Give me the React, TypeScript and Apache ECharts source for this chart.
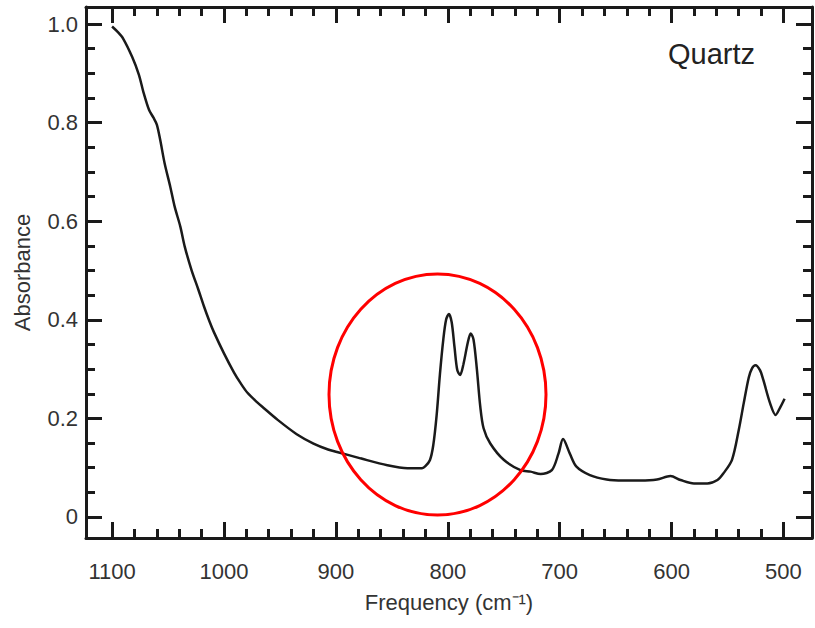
import React, { useEffect, useRef } from 'react';
import * as echarts from 'echarts';

// Wavenumber (cm^-1), descending
const wavenumbers = [
  1100, 1095, 1090, 1082, 1076, 1072, 1067, 1063, 1060, 1057, 1053, 1048, 1044, 1039, 1035, 1029,
  1023, 1018, 1013, 1009, 1000, 991, 985, 979, 970, 966, 952, 935, 920, 907, 899, 878, 854, 836,
  823, 820, 816, 813, 810, 807, 804, 801.5, 799, 796.5, 794, 791.5, 789, 786, 782, 779.5, 777,
  774, 771, 768, 762, 750, 735, 726, 717, 707, 701, 697, 691, 685, 673, 658, 643, 628, 613, 601,
  592, 580, 568, 559, 553.5, 546, 540, 535.5, 531, 528, 525, 521, 518, 512, 507, 503, 499,
];
// Absorbance values
const absorbance = [
  0.995, 0.984, 0.97, 0.933, 0.897, 0.862, 0.826, 0.81, 0.796, 0.765, 0.717, 0.67, 0.629, 0.589,
  0.548, 0.501, 0.462, 0.428, 0.397, 0.375, 0.332, 0.293, 0.271, 0.252, 0.232, 0.224, 0.197,
  0.168, 0.149, 0.137, 0.132, 0.119, 0.105, 0.099, 0.099, 0.103, 0.115, 0.145, 0.205, 0.29,
  0.36, 0.4, 0.412, 0.395, 0.345, 0.298, 0.288, 0.31, 0.355, 0.372, 0.36, 0.3, 0.225, 0.18,
  0.149, 0.116, 0.095, 0.092, 0.087, 0.095, 0.129, 0.158, 0.129, 0.102, 0.085, 0.076, 0.074,
  0.074, 0.076, 0.083, 0.075, 0.068, 0.068, 0.075, 0.089, 0.116, 0.176, 0.231, 0.283, 0.302,
  0.308, 0.298, 0.278, 0.231, 0.207, 0.222, 0.24,
];

const xMajorTicks = [1100, 1000, 900, 800, 700, 600, 500];
const xMinorTicks = [
  1080, 1060, 1040, 1020, 980, 960, 940, 920, 880, 860, 840, 820, 780, 760, 740, 720,
  680, 660, 640, 620, 580, 560, 540, 520,
];
const yMajorTicks = [0, 0.2, 0.4, 0.6, 0.8, 1.0];
const yMinorTicks = [0.05, 0.1, 0.15, 0.25, 0.3, 0.35, 0.45, 0.5, 0.55, 0.65, 0.7, 0.75, 0.85, 0.9, 0.95];

const sampleName = 'Quartz';
const xName = 'Frequency (cm⁻¹)';
const yName = 'Absorbance';

export default function App() {
  const ref = useRef<HTMLDivElement>(null);

  useEffect(() => {
    document.body.style.margin = '0';
    const chart = echarts.init(ref.current!, undefined, { renderer: 'svg', width: 815, height: 628 });

    const X_MIN = 474.5;
    const X_MAX = 1123.3;
    const Y_MIN = -0.0426;
    const Y_MAX = 1.0345;
    const ink = '#1a1a1a';
    const textColor = '#333';
    const font = 'Liberation Sans, Arial, Helvetica, sans-serif';

    const mkX = (position: string, ticks: number[], len: number, showLine: boolean, labels: boolean) => ({
      type: 'value',
      gridIndex: 0,
      position,
      min: X_MIN,
      max: X_MAX,
      inverse: true,
      splitLine: { show: false },
      axisLine: { show: showLine, onZero: false, lineStyle: { color: ink, width: 3 } },
      axisTick: { show: true, inside: true, length: len, customValues: ticks, lineStyle: { color: ink, width: 3 } },
      axisLabel: labels
        ? {
            show: true,
            customValues: xMajorTicks,
            margin: 22,
            fontSize: 22,
            color: textColor,
            fontFamily: font,
            formatter: (v: number) => String(Math.round(v)),
          }
        : { show: false },
      ...(labels
        ? {
            name: xName,
            nameLocation: 'middle',
            nameGap: 53,
            nameTextStyle: { fontSize: 22, color: textColor, fontFamily: font },
          }
        : {}),
    });

    const mkY = (position: string, ticks: number[], len: number, showLine: boolean, labels: boolean) => ({
      type: 'value',
      gridIndex: 0,
      position,
      min: Y_MIN,
      max: Y_MAX,
      splitLine: { show: false },
      axisLine: { show: showLine, onZero: false, lineStyle: { color: ink, width: 3 } },
      axisTick: { show: true, inside: true, length: len, customValues: ticks, lineStyle: { color: ink, width: 3 } },
      axisLabel: labels
        ? {
            show: true,
            customValues: yMajorTicks,
            margin: 8,
            fontSize: 22,
            color: textColor,
            fontFamily: font,
            formatter: (v: number) => (Math.abs(v) < 1e-9 ? '0' : v.toFixed(1)),
          }
        : { show: false },
      ...(labels
        ? {
            name: yName,
            nameLocation: 'middle',
            nameGap: 53,
            nameTextStyle: { fontSize: 22, color: textColor, fontFamily: font },
          }
        : {}),
    });

    const data = wavenumbers.map((w, i) => [w, absorbance[i]]);

    chart.setOption({
      animation: false,
      backgroundColor: '#fff',
      grid: { left: 86, top: 7, width: 726, height: 531, containLabel: false },
      xAxis: [
        mkX('bottom', xMajorTicks, 16, true, true),
        mkX('bottom', xMinorTicks, 9, false, false),
        mkX('top', xMajorTicks, 16, true, false),
        mkX('top', xMinorTicks, 9, false, false),
      ],
      yAxis: [
        mkY('left', yMajorTicks, 16, true, true),
        mkY('left', yMinorTicks, 9, false, false),
        mkY('right', yMajorTicks, 16, true, false),
        mkY('right', yMinorTicks, 9, false, false),
      ],
      series: [
        {
          type: 'line',
          xAxisIndex: 0,
          yAxisIndex: 0,
          data,
          showSymbol: false,
          smooth: 0.3,
          lineStyle: { color: ink, width: 2.5 },
        },
      ],
      graphic: [
        {
          type: 'ellipse',
          shape: { cx: 437.5, cy: 394.5, rx: 108.5, ry: 120.5 },
          style: { fill: 'none', stroke: '#ff0000', lineWidth: 3 },
          z: 10,
        },
        {
          type: 'text',
          x: 668,
          y: 54,
          style: {
            text: sampleName,
            fontSize: 29,
            fontFamily: font,
            fill: '#222',
            align: 'left',
            verticalAlign: 'middle',
          },
          z: 10,
        },
      ],
    });

    return () => chart.dispose();
  }, []);

  return <div ref={ref} style={{ position: 'absolute', left: 0, top: 0, width: 815, height: 628 }} />;
}
